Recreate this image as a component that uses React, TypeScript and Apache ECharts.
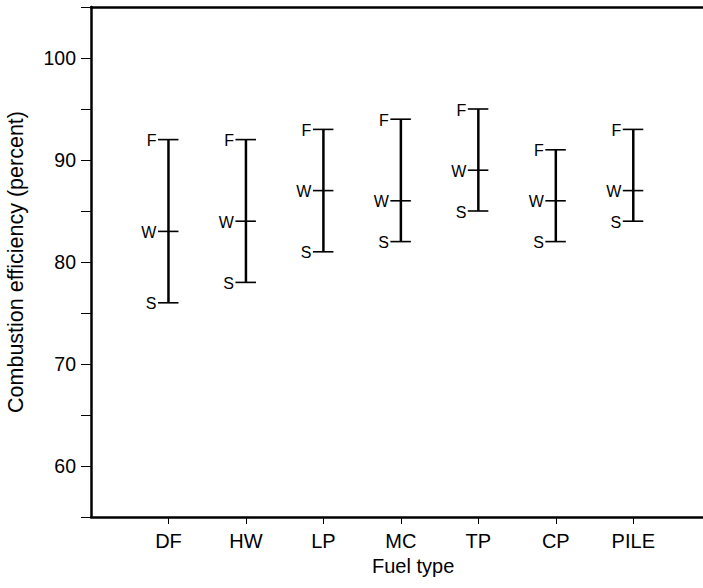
import React, { useEffect, useRef } from "react";
import * as echarts from "echarts";

const categories = ["DF", "HW", "LP", "MC", "TP", "CP", "PILE"];
const fValues = [92, 92, 93, 94, 95, 91, 93];
const wValues = [83, 84, 87, 86, 89, 86, 87];
const sValues = [76, 78, 81, 82, 85, 82, 84];
const yTickLabels = [60, 70, 80, 90, 100];

const FONT = "'Liberation Sans', Arial, Helvetica, sans-serif";

export default function App() {
  const ref = useRef<HTMLDivElement>(null);

  useEffect(() => {
    if (!ref.current) return;
    const chart = echarts.init(ref.current, null, { renderer: "svg" });
    const data = categories.map((_, i) => [i + 1, sValues[i], wValues[i], fValues[i]]);
    const positions = categories.map((_, i) => i + 1);

    const renderItem = (params: any, api: any) => {
      const x = api.value(0);
      const pS = api.coord([x, api.value(1)]);
      const pW = api.coord([x, api.value(2)]);
      const pF = api.coord([x, api.value(3)]);
      const cap = (p: number[]) => ({
        type: "line",
        shape: { x1: p[0] - 10.5, y1: p[1], x2: p[0] + 10, y2: p[1] },
        style: { stroke: "#000", lineWidth: 1.6 },
      });
      const label = (p: number[], t: string) => ({
        type: "text",
        style: {
          text: t,
          x: p[0] - 12,
          y: p[1] + 1,
          align: "right",
          verticalAlign: "middle",
          fontSize: 16,
          fontFamily: FONT,
          fill: "#000",
        },
      });
      return {
        type: "group",
        children: [
          {
            type: "line",
            shape: { x1: pF[0], y1: pF[1], x2: pS[0], y2: pS[1] },
            style: { stroke: "#000", lineWidth: 2.5 },
          },
          cap(pF),
          cap(pW),
          cap(pS),
          label(pF, "F"),
          label(pW, "W"),
          label(pS, "S"),
        ],
      };
    };

    chart.setOption({
      animation: false,
      backgroundColor: "#fff",
      textStyle: { fontFamily: FONT },
      grid: { left: 91, right: 0, top: 7, bottom: 71, outerBoundsMode: "none", containLabel: false },
      xAxis: [
        {
          type: "value",
          min: 0,
          max: 7.9,
          interval: 1,
          splitLine: { show: false },
          axisLine: { show: true, onZero: false, lineStyle: { color: "#000", width: 2.5 } },
          axisTick: {
            show: true,
            customValues: positions,
            length: 7,
            lineStyle: { color: "#000", width: 1 },
          },
          axisLabel: {
            customValues: positions,
            formatter: (v: number) => categories[Math.round(v) - 1] ?? "",
            color: "#000",
            fontSize: 20,
            fontFamily: FONT,
            margin: 14,
          },
        },
        {
          type: "value",
          position: "top",
          min: 0,
          max: 7.9,
          splitLine: { show: false },
          axisLine: { show: true, onZero: false, lineStyle: { color: "#000", width: 2.5 } },
          axisTick: { show: false },
          axisLabel: { show: false },
        },
      ],
      yAxis: {
        type: "value",
        min: 55,
        max: 105,
        interval: 5,
        name: "Combustion efficiency (percent)",
        nameLocation: "middle",
        nameGap: 64,
        nameTextStyle: { color: "#000", fontSize: 21.5, fontFamily: FONT },
        splitLine: { show: false },
        axisLine: { show: true, lineStyle: { color: "#000", width: 2.5 } },
        axisTick: { show: true, length: 10, lineStyle: { color: "#000", width: 1 } },
        axisLabel: {
          formatter: (v: number) => (yTickLabels.includes(v) ? String(v) : ""),
          color: "#000",
          fontSize: 19.5,
          fontFamily: FONT,
          margin: 15,
        },
      },
      graphic: [
        {
          type: "text",
          left: 414 - 42,
          top: 556,
          style: {
            text: "Fuel type",
            fontSize: 20,
            fontFamily: FONT,
            fill: "#000",
          },
        },
      ],
      series: [
        {
          type: "custom",
          renderItem,
          data,
          encode: { x: 0, y: [1, 2, 3] },
          clip: false,
        },
      ],
    });

    return () => chart.dispose();
  }, []);

  return (
    <div
      ref={ref}
      style={{ position: "absolute", left: 0, top: 0, width: 703, height: 588 }}
    />
  );
}
